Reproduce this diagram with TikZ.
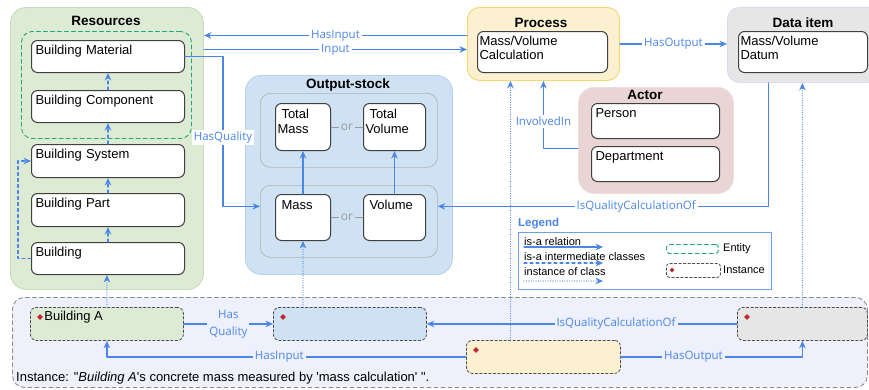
\documentclass[tikz,border=0pt]{standalone}
\usepackage{fontspec}
\setmainfont{Liberation Sans}
\newfontfamily\lblfont{Open Sans}
\usetikzlibrary{arrows.meta,shapes.geometric}
\definecolor{linkblue}{HTML}{4A86E8}
\definecolor{resfill}{HTML}{DDEBD5}
\definecolor{resdraw}{HTML}{C6DEB8}
\definecolor{osfill}{HTML}{CFE2F3}
\definecolor{osdraw}{HTML}{B8D2EC}
\definecolor{procfill}{HTML}{FBF0CF}
\definecolor{procdraw}{HTML}{F5D476}
\definecolor{datafill}{HTML}{E6E6E6}
\definecolor{datadraw}{HTML}{DADAE8}
\definecolor{actfill}{HTML}{E8D5D4}
\definecolor{actdraw}{HTML}{EFDDDD}
\definecolor{insfill}{HTML}{EEF0FB}
\definecolor{entgreen}{HTML}{1FA67A}
\definecolor{dotred}{HTML}{C0282D}
\definecolor{orgrey}{HTML}{9A9A9A}

\begin{document}
\begin{tikzpicture}[x=1pt,y=-1pt,>={Stealth[length=7.5pt,width=6.5pt]},line join=round,line cap=round,
	font=\fontsize{13}{14.5}\selectfont,
	grp/.style={anchor=north west,inner sep=0pt,rounded corners=16pt,line width=.9pt},
	ttl/.style={font=\fontsize{13.5}{15}\selectfont\bfseries,anchor=base,inner sep=0pt},
	cls/.style={draw=black!75,fill=white,line width=1pt,rounded corners=6pt,anchor=north west,align=left,inner xsep=4pt,inner ysep=2.5pt,text height=11pt},
	sub/.style={draw=black!30,line width=.7pt,rounded corners=10pt,anchor=north west,inner sep=0pt},
	inst/.style={draw=black!70,fill=#1,line width=.8pt,dash pattern=on 2.5pt off 2pt,rounded corners=6pt,anchor=north west,inner sep=0pt},
	dot/.style={diamond,fill=dotred,inner sep=0pt,minimum size=6pt},
	rel/.style={draw=linkblue,line width=1.3pt},
	isa/.style={rel,dash pattern=on 3pt off 3pt},
	ins/.style={rel,line width=1.2pt,dash pattern=on 0pt off 2.4pt},
	lbl/.style={font=\lblfont\fontsize{11.5}{13}\selectfont,text=linkblue,fill=white,inner sep=2pt},
	orlbl/.style={font=\lblfont\fontsize{12}{13}\selectfont,text=orgrey,fill=osfill,inner sep=2pt},
	lgd/.style={font=\fontsize{11}{12}\selectfont,anchor=base west,inner sep=0pt}]
	\clip (0,0) rectangle (869,389);
	\fill[white] (0,0) rectangle (869,389);
	% groups
	\node[grp,fill=resfill,draw=resdraw,minimum width=193pt,minimum height=282pt] (res) at (10,7) {};
	\node[ttl] (res-t) at (106,25) {Resources};
	\node[grp,draw=entgreen,dash pattern=on 4pt off 3pt,rounded corners=11pt,minimum width=170pt,minimum height=107pt] (ent) at (21,31) {};
	\node[grp,fill=osfill,draw=osdraw,minimum width=207pt,minimum height=199pt] (os) at (245,75) {};
	\node[ttl] (os-t) at (348,88) {Output-stock};
	\node[sub,minimum width=177pt,minimum height=74pt] (os1) at (260,93) {};
	\node[sub,minimum width=177pt,minimum height=72pt] (os2) at (260,185) {};
	\node[grp,fill=procfill,draw=procdraw,rounded corners=12pt,minimum width=152pt,minimum height=73pt] (proc) at (467,7) {};
	\node[ttl] (proc-t) at (541,27) {Process};
	\node[grp,fill=datafill,draw=datadraw,rounded corners=12pt,minimum width=153pt,minimum height=75pt] (data) at (727,7) {};
	\node[ttl] (data-t) at (803,27) {Data item};
	\node[grp,fill=actfill,draw=actdraw,minimum width=155pt,minimum height=106pt] (act) at (578,87) {};
	\node[ttl] (act-t) at (645,99) {Actor};
	\node[grp,fill=insfill,draw=black!45,dash pattern=on 4pt off 3pt,rounded corners=12pt,minimum width=855pt,minimum height=90pt] (insarea) at (12,297) {};
	% classes
	\node[cls,text width=145pt,text depth=16pt] (bm) at (31,40) {Building Material};
	\node[cls,text width=145pt,text depth=16pt] (bc) at (31,90) {Building Component};
	\node[cls,text width=145pt,text depth=17pt] (bs) at (31,144) {Building System};
	\node[cls,text width=145pt,text depth=17pt] (bp) at (31,193) {Building Part};
	\node[cls,text width=145pt,text depth=16pt] (bld) at (31,242) {Building};
	\node[cls,inner xsep=2pt,text width=51pt,text height=12.5pt,text depth=29.5pt] (tmass) at (275,103) {\hspace*{4pt}Total\\Mass};
	\node[cls,inner xsep=2pt,text width=58pt,text height=12.5pt,text depth=29.5pt] (tvol) at (363,103) {\hspace*{4pt}Total\\Volume};
	\node[cls,inner xsep=2pt,text width=51pt,text height=12pt,text depth=29pt] (mass) at (275,194) {\hspace*{4pt}Mass};
	\node[cls,inner xsep=2pt,text width=58pt,text height=12pt,text depth=29pt] (vol) at (363,194) {\hspace*{4pt}Volume};
	\node[cls,inner xsep=2pt,text width=126pt,text depth=25pt] (calc) at (477,31) {Mass/Volume\\Calculation};
	\node[cls,inner xsep=2pt,text width=125pt,text depth=25pt] (datum) at (738,31) {Mass/Volume\\Datum};
	\node[cls,text width=120pt,text depth=19pt] (person) at (591,103) {Person};
	\node[cls,text width=120pt,text depth=19pt] (dept) at (591,146) {Department};
	% legend
	\node[font=\fontsize{11.5}{13}\selectfont\bfseries,text=linkblue,anchor=base west,inner sep=0pt] (lgd-t) at (518,226) {Legend};
	\node[draw=linkblue!80,fill=white,line width=.9pt,anchor=north west,inner sep=0pt,minimum width=253pt,minimum height=57pt] (lgd) at (518,232) {};
	\node[lgd] (l1) at (524,245) {is-a relation};
	\node[lgd] (l2) at (524,260) {is-a intermediate classes};
	\node[lgd] (l3) at (524,275) {instance of class};
	\draw[rel,->] ([yshift=-2pt]l1.base west) -- ++(79,0);
	\draw[isa,->] ([yshift=-3pt]l2.base west) -- ++(79,0);
	\draw[ins,->] ([yshift=-6pt]l3.base west) -- ++(79,0);
	\node[grp,draw=entgreen,dash pattern=on 4pt off 3pt,rounded corners=3pt,minimum width=52pt,minimum height=9pt] (ent-k) at (666,244) {};
	\node[lgd,anchor=west] (ent-l) at (723,249) {Entity};
	\node[inst=white,rounded corners=3pt,minimum width=54pt,minimum height=14pt] (ins-k) at (666,263) {};
	\node[dot,minimum size=5pt] (ins-d) at ([shift={(6,7)}]ins-k.north west) {};
	\node[lgd,anchor=west] (ins-l) at (723,270) {Instance};
	% instances
	\node[inst=resfill,minimum width=153pt,minimum height=33pt] (bi) at (30,307) {};
	\node[dot] (bi-d) at ([shift={(10,10)}]bi.north west) {};
	\node[anchor=west,inner sep=1pt] (bi-t) at (bi-d.east) {Building A};
	\node[inst=osfill,minimum width=153pt,minimum height=33pt] (oi) at (273,307) {};
	\node[dot] (oi-d) at ([shift={(10,10)}]oi.north west) {};
	\node[inst=procfill,minimum width=154pt,minimum height=33pt] (pi) at (466,340) {};
	\node[dot] (pi-d) at ([shift={(10,10)}]pi.north west) {};
	\node[inst=datafill,minimum width=130pt,minimum height=33pt] (di) at (737,307) {};
	\node[dot] (di-d) at ([shift={(10,10)}]di.north west) {};
	\node[anchor=base west,inner sep=0pt] (note) at (16,381) {Instance: \textquotedbl\textit{Building A}\textquotesingle s concrete mass measured by \textquotesingle mass calculation\textquotesingle{} \textquotedbl.};
	% is-a links
	\draw[isa,->] (bc.north) -- (bm.south);
	\draw[isa,->] (bs.north) -- (bc.south);
	\draw[isa,->] (bp.north) -- (bs.south);
	\draw[isa,->] (bld.north) -- (bp.south);
	\draw[isa,->] (bld.west) -- ++(-13,0) |- (bs.west);
	\draw[rel,->] (mass.north) -- (tmass.south);
	\draw[rel,->] (vol.north) -- (tvol.south);
	\draw[orgrey,line width=.9pt] (tmass.east) -- node[orlbl]{or} (tvol.west);
	\draw[orgrey,line width=.9pt] (mass.east) -- node[orlbl]{or} (vol.west);
	% relations
	\coordinate (hin) at ([yshift=8.5pt]proc.west);
	\coordinate (inp) at ([yshift=-5.5pt]proc.west);
	\draw[rel,->] (hin) -- node[lbl]{HasInput} (hin -| res.east);
	\draw[rel,->] (inp -| res.east) -- node[lbl]{Input} (inp);
	\draw[rel,->] (bm.east) -- ++(38,0) |- node[lbl,pos=.27]{HasQuality} ([yshift=15pt]os2.west);
	\draw[rel,->] (proc.east) -- node[lbl]{HasOutput} (proc.east -| data.west);
	\draw[rel,->] ([yshift=-8pt]act.west) -| node[lbl,pos=.7]{InvolvedIn} (proc.south);
	\draw[rel,->] ([xshift=-35.5pt]data.south) |- node[lbl,pos=.7]{IsQualityCalculationOf} ([yshift=15pt]os2.east);
	% instance of
	\draw[ins,->] (bi.north) -- (bi.north |- bld.south);
	\draw[ins,->] (oi.north -| mass.south) -- (mass.south);
	\draw[ins,->] ([xshift=-33pt]pi.north) -- ([xshift=-33pt]proc.south);
	\draw[ins,->] (di.north) -- (di.north |- data.south);
	% instance links
	\draw[rel,->] (bi.east) -- node[lbl,fill=insfill,align=center]{Has\\[4pt]Quality} (oi.west);
	\draw[rel,->] (di.west) -- node[lbl,fill=insfill,pos=.39]{IsQualityCalculationOf} (oi.east);
	\draw[rel,->] (pi.west) -| node[lbl,fill=insfill,pos=.26]{HasInput} (bi.south);
	\draw[rel,->] (pi.east) -| node[lbl,fill=insfill,pos=.2]{HasOutput} (di.south);
\end{tikzpicture}
\end{document}
